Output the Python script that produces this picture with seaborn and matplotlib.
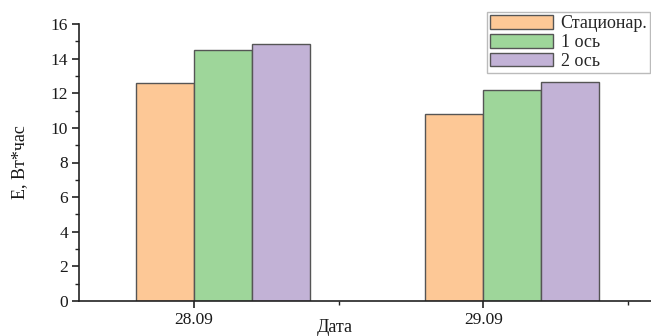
import matplotlib
matplotlib.use("Agg")
import matplotlib.pyplot as plt
import seaborn as sns
import pandas as pd
from matplotlib.ticker import MultipleLocator, FixedLocator

dates = ["28.09", "29.09"]
series_names = ["Стационар.", "1 ось", "2 ось"]
stationary = [12.58, 10.80]
axis1 = [14.47, 12.20]
axis2 = [14.84, 12.64]
colors = ["#FDC896", "#9ED69A", "#C2B2D6"]

rows = []
for name, vals in zip(series_names, [stationary, axis1, axis2]):
    for d, v in zip(dates, vals):
        rows.append({"Дата": d, "Серия": name, "E": v})
df = pd.DataFrame(rows)

sns.set_theme(style="ticks")
plt.rcParams["font.family"] = ["Liberation Serif", "DejaVu Serif"]

fig = plt.figure(figsize=(6.51, 3.36), dpi=100)
ax = fig.add_axes([79/651, 35/336, 1 - 79/651, 277/336])

sns.barplot(data=df, x="Дата", y="E", hue="Серия", hue_order=series_names,
            order=dates, palette=colors, width=0.6, gap=0,
            edgecolor="#555555", linewidth=1.0, saturation=1, ax=ax)

ax.set_ylim(0, 16)
ax.set_xlim(-0.497, 1.48)
ax.yaxis.set_major_locator(MultipleLocator(2))
ax.yaxis.set_minor_locator(MultipleLocator(1))
ax.set_xticks([-0.1, 0.9])
ax.set_xticklabels(dates)
ax.xaxis.set_minor_locator(FixedLocator([0.4, 1.4]))
ax.tick_params(axis="both", which="major", direction="out", length=5, width=1.2,
               labelsize=12.5, color="#222222", labelcolor="#1a1a1a", pad=3)
ax.tick_params(axis="both", which="minor", direction="out", length=3, width=1.0,
               color="#222222")
for s in ["top", "right"]:
    ax.spines[s].set_visible(False)
for s in ["left", "bottom"]:
    ax.spines[s].set_linewidth(1.2)
    ax.spines[s].set_color("#222222")

ax.set_xlabel("Дата", fontsize=13, color="#1a1a1a")
ax.set_ylabel("E, Вт*час", fontsize=13, color="#1a1a1a")
ax.xaxis.set_label_coords((335 - 79) / 572, -(327 - 301) / 277)
ax.xaxis.label.set_verticalalignment("center")
ax.yaxis.set_label_coords((20 - 79) / 572, 0.5)
ax.yaxis.label.set_verticalalignment("center")

leg = ax.legend(loc="upper right", bbox_to_anchor=(650/651, 1 - 12/336),
                bbox_transform=fig.transFigure, fontsize=13,
                frameon=True, fancybox=False, edgecolor="#aaaaaa",
                handlelength=3.5, handleheight=0.8, labelspacing=0.1,
                borderpad=0.15, handletextpad=0.4, borderaxespad=0)
leg.get_frame().set_linewidth(1.0)

fig.savefig("out.png", dpi=100)
